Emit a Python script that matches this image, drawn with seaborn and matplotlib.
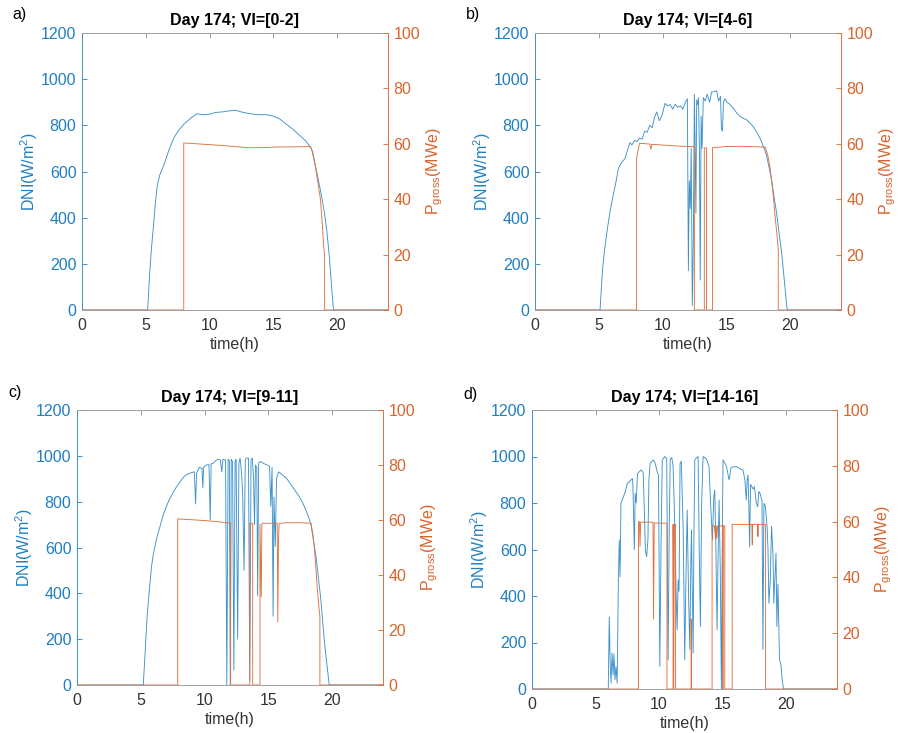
import seaborn as sns
import matplotlib.pyplot as plt

# ---- data (time in h, DNI in W/m2, power in MWe) ----
a_time = [0, 5.15, 5.3, 5.45, 5.6, 5.75, 5.9, 6.1, 6.4, 6.8,
          7.2, 7.6, 8.0, 8.5, 9.0, 9.5, 10.0, 10.5, 11.0, 11.5,
          12.0, 12.5, 13.0, 13.5, 14.0, 14.5, 15.0, 15.5, 16.0, 16.5,
          17.0, 17.5, 18.0, 18.4, 18.7, 19.0, 19.2, 19.4, 19.55, 19.7,
          19.75, 24]
a_dni = [0, 0, 150, 270, 360, 460, 540, 585, 625, 690,
         745, 780, 805, 830, 850, 846, 848, 856, 858, 862,
         866, 858, 852, 848, 846, 846, 840, 828, 806, 785,
         760, 735, 700, 600, 520, 425, 345, 230, 120, 15,
         0, 0]
a_ptime = [0, 7.98, 7.98, 9, 10, 11, 12, 13, 14, 15,
           16, 17, 17.9, 18.1, 18.3, 18.5, 18.7, 18.85, 18.95, 19.03,
           19.03, 24]
a_pow = [0, 0, 60.3, 60.0, 59.7, 59.4, 59.0, 58.6, 58.6, 58.8,
         58.9, 58.9, 59.0, 57, 52, 46, 40, 31, 23, 20,
         0, 0]

b_time = [0, 5.1, 5.3, 5.5, 5.7, 5.9, 6.1, 6.3, 6.55, 6.8,
          7.05, 7.3, 7.45, 7.6, 7.8, 8.0, 8.2, 8.4, 8.6, 8.8,
          9.0, 9.2, 9.35, 9.55, 9.75, 9.95, 10.2, 10.4, 10.6, 10.8,
          11.0, 11.2, 11.4, 11.6, 11.8, 11.95, 12.03, 12.1, 12.18, 12.25,
          12.34, 12.42, 12.5, 12.56, 12.62, 12.68, 12.75, 12.82, 12.9, 12.96,
          13.03, 13.1, 13.2, 13.35, 13.5, 13.7, 13.85, 14.0, 14.25, 14.4,
          14.55, 14.62, 14.7, 14.78, 14.9, 15.05, 15.3, 15.55, 15.8, 16.1,
          16.35, 16.6, 16.85, 17.1, 17.4, 17.65, 17.9, 18.15, 18.35, 18.55,
          18.75, 18.95, 19.15, 19.35, 19.5, 19.6, 19.7, 19.78, 24]
b_dni = [0, 0, 180, 280, 360, 430, 490, 540, 615, 640,
         655, 700, 725, 715, 735, 730, 745, 740, 775, 770,
         800, 790, 830, 858, 820, 840, 895, 885, 890, 870,
         892, 878, 885, 870, 900, 915, 170, 560, 440, 700,
         20, 300, 935, 700, 420, 910, 890, 920, 680, 130,
         840, 700, 920, 905, 935, 900, 945, 945, 950, 905,
         925, 785, 775, 900, 915, 900, 890, 875, 855, 838,
         830, 824, 810, 795, 770, 744, 710, 672, 620, 565,
         490, 420, 330, 246, 160, 100, 40, 0, 0]
b_ptime = [0, 7.97, 7.97, 8.2, 9.0, 9.1, 9.15, 9.2, 10.5, 11.9,
           12.5, 12.5, 13.28, 13.28, 13.45, 13.45, 13.92, 13.92, 15, 16,
           17, 18.05, 18.25, 18.45, 18.65, 18.85, 19.0, 19.08, 19.08, 24]
b_pow = [0, 0, 55, 60.2, 59.9, 58, 59.8, 59.8, 59.4, 59.0,
         59.0, 0, 0, 58.5, 58.5, 0, 0, 58.6, 59.0, 59.1,
         59.0, 58.8, 56, 51, 43, 33, 26, 22, 0, 0]

c_time = [0, 5.2, 5.35, 5.5, 5.7, 5.85, 6.0, 6.25, 6.5, 6.75,
          7.0, 7.25, 7.5, 7.75, 8.0, 8.25, 8.5, 8.8, 9.05, 9.2,
          9.3, 9.38, 9.6, 9.8, 9.87, 9.93, 10.13, 10.35, 10.45, 10.52,
          10.7, 10.9, 11.05, 11.25, 11.35, 11.45, 11.65, 11.75, 11.85, 11.95,
          12.02, 12.1, 12.2, 12.3, 12.4, 12.48, 12.6, 12.7, 12.79, 12.9,
          13.0, 13.1, 13.2, 13.3, 13.45, 13.55, 13.65, 13.75, 13.85, 13.92,
          14.0, 14.1, 14.17, 14.25, 14.4, 14.55, 14.7, 14.9, 15.1, 15.2,
          15.3, 15.38, 15.45, 15.55, 15.65, 15.8, 15.95, 16.2, 16.4, 16.65,
          16.9, 17.15, 17.45, 17.7, 17.95, 18.15, 18.35, 18.55, 18.75, 18.95,
          19.13, 19.25, 19.39, 19.5, 19.65, 19.78, 24]
c_dni = [0, 0, 150, 300, 430, 520, 575, 640, 690, 740,
         778, 810, 836, 860, 880, 900, 915, 923, 928, 930,
         790, 925, 950, 945, 860, 950, 960, 962, 720, 965,
         968, 980, 985, 982, 930, 985, 982, 0, 985, 980,
         0, 985, 975, 65, 980, 985, 200, 970, 990, 930,
         820, 500, 985, 990, 990, 20, 985, 990, 900, 700,
         960, 950, 390, 970, 975, 970, 965, 960, 955, 780,
         950, 300, 820, 605, 900, 930, 925, 912, 905, 885,
         865, 845, 820, 795, 763, 735, 700, 630, 560, 460,
         370, 290, 197, 140, 66, 0, 0]
c_ptime = [0, 7.9, 7.9, 9, 10, 11, 12.05, 12.05, 13.55, 13.55,
           13.78, 13.78, 14.35, 14.35, 14.45, 14.5, 14.55, 15, 15.7, 15.75,
           15.8, 15.85, 16.5, 17.5, 18.35, 18.5, 18.65, 18.85, 19.0, 19.05,
           19.05, 24]
c_pow = [0, 0, 60.4, 60.1, 59.8, 59.4, 58.8, 0, 0, 58.8,
         58.8, 0, 0, 58.5, 32, 58.5, 58.8, 58.8, 58.9, 23,
         52, 58.8, 59.0, 59.0, 58.8, 55, 48, 35, 27, 25,
         0, 0]

d_time = [0, 6.0, 6.08, 6.15, 6.22, 6.3, 6.38, 6.45, 6.53, 6.61,
          6.7, 6.8, 6.87, 6.93, 7.0, 7.1, 7.2, 7.35, 7.5, 7.65,
          7.8, 7.92, 7.98, 8.05, 8.12, 8.2, 8.3, 8.45, 8.6, 8.75,
          8.85, 8.92, 9.02, 9.12, 9.2, 9.3, 9.45, 9.55, 9.7, 9.85,
          9.95, 10.06, 10.15, 10.25, 10.45, 10.6, 10.71, 10.8, 10.88, 11.0,
          11.1, 11.2, 11.3, 11.42, 11.5, 11.57, 11.65, 11.75, 11.9, 12.02,
          12.12, 12.21, 12.32, 12.42, 12.5, 12.55, 12.62, 12.68, 12.75, 12.81,
          12.95, 13.07, 13.16, 13.25, 13.35, 13.46, 13.6, 13.72, 13.85, 13.93,
          14.05, 14.2, 14.3, 14.38, 14.47, 14.56, 14.65, 14.72, 14.82, 14.9,
          14.97, 15.03, 15.15, 15.29, 15.4, 15.5, 15.56, 15.65, 15.8, 16.07,
          16.3, 16.45, 16.6, 16.75, 16.86, 16.93, 17.0, 17.07, 17.12, 17.2,
          17.3, 17.4, 17.5, 17.65, 17.76, 17.85, 17.95, 18.1, 18.17, 18.25,
          18.35, 18.5, 18.57, 18.64, 18.75, 18.85, 18.96, 19.03, 19.1, 19.2,
          19.27, 19.35, 19.48, 19.6, 19.68, 19.8, 24]
d_dni = [0, 0, 310, 120, 25, 155, 60, 150, 40, 97,
         25, 480, 641, 483, 800, 813, 827, 850, 884, 890,
         900, 905, 784, 600, 842, 800, 927, 935, 942, 930,
         750, 598, 569, 640, 900, 971, 980, 985, 970, 935,
         920, 97, 600, 985, 1000, 990, 126, 700, 990, 995,
         960, 784, 500, 255, 469, 420, 970, 980, 670, 126,
         500, 770, 400, 170, 550, 684, 400, 155, 700, 985,
         995, 1000, 600, 269, 800, 1000, 995, 990, 970, 957,
         800, 641, 820, 856, 600, 255, 600, 813, 500, 0,
         600, 985, 975, 960, 930, 900, 913, 950, 955, 957,
         950, 945, 942, 900, 813, 900, 920, 780, 612, 880,
         870, 860, 870, 800, 784, 850, 840, 810, 169, 798,
         790, 698, 600, 369, 469, 700, 584, 370, 455, 584,
         269, 450, 126, 100, 40, 0, 0]
d_ptime = [0, 8.38, 8.38, 8.45, 8.5, 8.55, 9.5, 9.52, 9.56, 9.62,
           9.67, 10.62, 10.62, 11.1, 11.1, 11.15, 11.2, 11.3, 11.3, 12.52,
           12.52, 12.56, 12.56, 14.17, 14.17, 14.35, 14.45, 14.5, 14.55, 14.6,
           15.0, 15.02, 15.05, 15.17, 15.17, 15.75, 15.75, 17.3, 17.33, 17.36,
           17.75, 17.78, 17.81, 18.38, 18.38, 24]
d_pow = [0, 0, 60, 60, 51, 59.8, 59.8, 59.8, 25, 59.5,
         59.5, 59.4, 0, 0, 59.0, 0, 59.0, 59.0, 0, 0,
         25, 25, 0, 0, 58.5, 58.5, 53.5, 58.5, 54, 58.5,
         58.5, 0, 58.5, 58.5, 0, 0, 59.0, 59.0, 51.6, 59.0,
         59.0, 54.6, 59.0, 59.0, 0, 0]

titles = ['Day 174; VI=[0-2]', 'Day 174; VI=[4-6]',
          'Day 174; VI=[9-11]', 'Day 174; VI=[14-16]']
letters = ['a)', 'b)', 'c)', 'd)']

sns.set_theme(style='white')
plt.rcParams['font.family'] = ['Liberation Sans', 'DejaVu Sans']
plt.rcParams['mathtext.fontset'] = 'custom'
plt.rcParams['mathtext.rm'] = 'Liberation Sans'

BLUE = '#1f7fc0'
BLUE_LINE = '#3d92cb'
ORANGE = '#d8642c'
ORANGE_LINE = '#e0703e'
DARK = '#333333'
FS = 11.5

fig = plt.figure(figsize=(8.98, 7.33), dpi=100)

# axes boxes in pixels: left, right, top, bottom
boxes = [(82, 388, 33, 310), (535, 841, 33, 310),
         (77, 383, 410, 685), (532, 837, 410, 689)]
letter_pos = [(12, 15), (466, 15), (8, 392), (463, 394)]

series = [(a_time, a_dni, a_ptime, a_pow),
          (b_time, b_dni, b_ptime, b_pow),
          (c_time, c_dni, c_ptime, c_pow),
          (d_time, d_dni, d_ptime, d_pow)]

W, H = 898, 733
for i, (t, dni, pt, pw) in enumerate(series):
    l, r, tp, bt = boxes[i]
    ax = fig.add_axes([l / W, (H - bt) / H, (r - l) / W, (bt - tp) / H])
    sns.lineplot(x=t, y=dni, ax=ax, color=BLUE_LINE, linewidth=0.65,
                 sort=False, estimator=None)
    ax.set_xlim(0, 24)
    ax.set_ylim(0, 1200)
    ax.set_xticks([0, 5, 10, 15, 20])
    ax.set_yticks(range(0, 1201, 200))
    ax.tick_params(axis='x', direction='in', top=True, length=3.5, width=0.6,
                   color='#888888', labelcolor=DARK, labelsize=FS, pad=5.5)
    ax.tick_params(axis='y', direction='in', length=3.5, width=0.6,
                   color=BLUE, labelcolor=BLUE, labelsize=FS, pad=4)
    ax.set_xlabel('time(h)', color=DARK, fontsize=FS, labelpad=3)
    ax.set_ylabel('DNI(W/m$^2$)', color=BLUE, fontsize=FS, labelpad=1)
    ax.set_title(titles[i], fontsize=FS, fontweight='bold', pad=6, color='black')
    for s in ['top', 'bottom']:
        ax.spines[s].set_color('#a0a0a0')
        ax.spines[s].set_linewidth(0.7)
    ax.spines['left'].set_color(BLUE_LINE)
    ax.spines['left'].set_linewidth(0.7)
    ax.spines['right'].set_visible(False)

    ax2 = ax.twinx()
    sns.lineplot(x=pt, y=pw, ax=ax2, color=ORANGE_LINE, linewidth=0.65,
                 sort=False, estimator=None)
    ax2.set_ylim(0, 100)
    ax2.set_yticks(range(0, 101, 20))
    ax2.tick_params(axis='y', direction='in', length=3.5, width=0.6,
                    color=ORANGE, labelcolor=ORANGE, labelsize=FS, pad=4)
    ax2.set_ylabel('P$_{\\mathrm{gross}}$(MWe)', color=ORANGE, fontsize=FS,
                   labelpad=3)
    for s in ['top', 'bottom', 'left']:
        ax2.spines[s].set_visible(False)
    ax2.spines['right'].set_color(ORANGE_LINE)
    ax2.spines['right'].set_linewidth(0.7)

    fig.text(letter_pos[i][0] / W, 1 - letter_pos[i][1] / H, letters[i],
             fontsize=FS, ha='left', va='center', color='black')

fig.savefig('out.png', dpi=100)
